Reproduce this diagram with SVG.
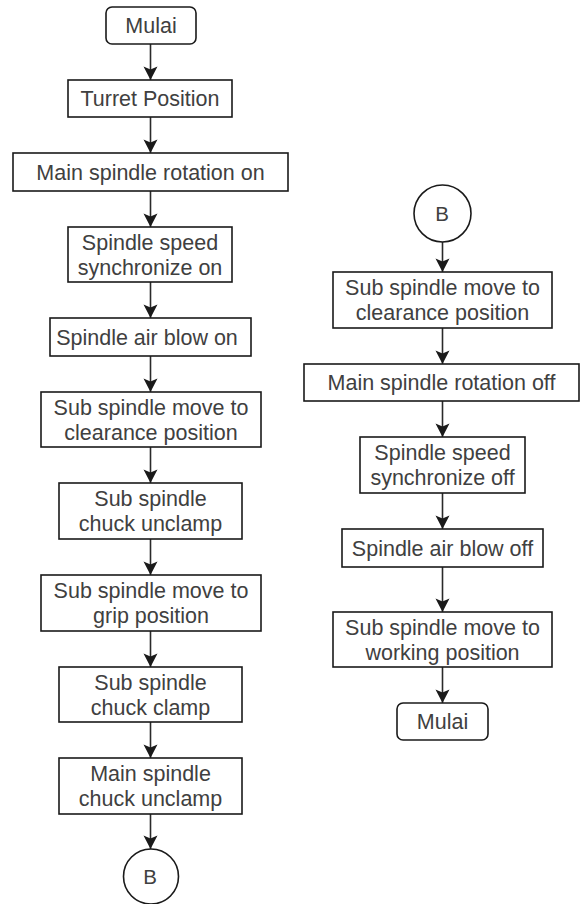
<svg xmlns="http://www.w3.org/2000/svg" width="582" height="904" viewBox="0 0 582 904">
  <defs>
    <marker id="arrow" markerUnits="userSpaceOnUse" markerWidth="16" markerHeight="16" viewBox="-15 -8 16 16" refX="0" refY="0" orient="auto">
      <path d="M0,0 L-13.5,-7 L-10.5,0 L-13.5,7 Z" fill="#1a1a1a"/>
    </marker>
    <style>
      .box { fill: #ffffff; stroke: #1a1a1a; stroke-width: 1.6; }
      .lbl { font-family: "Liberation Sans", Arial, sans-serif; font-size: 21.5px; fill: #404040; text-anchor: middle; }
      .b { font-size: 20.5px; }
      .edge { stroke: #2a2a2a; stroke-width: 1.6; fill: none; marker-end: url(#arrow); }
    </style>
  </defs>
  <rect width="582" height="904" fill="#ffffff"/>

  <!-- connectors -->
  <g id="connectors">
    <line class="edge" x1="150.5" y1="44" x2="150.5" y2="80"/>
    <line class="edge" x1="150.5" y1="117" x2="150.5" y2="153"/>
    <line class="edge" x1="150.5" y1="191" x2="150.5" y2="227"/>
    <line class="edge" x1="150.5" y1="282" x2="150.5" y2="318"/>
    <line class="edge" x1="150.5" y1="356" x2="150.5" y2="392"/>
    <line class="edge" x1="150.5" y1="447" x2="150.5" y2="483"/>
    <line class="edge" x1="150.5" y1="539" x2="150.5" y2="575"/>
    <line class="edge" x1="150.5" y1="631" x2="150.5" y2="667"/>
    <line class="edge" x1="150.5" y1="722" x2="150.5" y2="758"/>
    <line class="edge" x1="150.5" y1="814" x2="150.5" y2="849"/>

    <line class="edge" x1="442.5" y1="242" x2="442.5" y2="272"/>
    <line class="edge" x1="442.5" y1="328" x2="442.5" y2="364"/>
    <line class="edge" x1="442.5" y1="401" x2="442.5" y2="437"/>
    <line class="edge" x1="442.5" y1="493" x2="442.5" y2="529"/>
    <line class="edge" x1="442.5" y1="567" x2="442.5" y2="612"/>
    <line class="edge" x1="442.5" y1="667" x2="442.5" y2="703"/>
  </g>

  <!-- left column -->
  <g id="start">
    <rect class="box" x="106" y="7" width="90" height="37" rx="6"/>
    <text class="lbl" x="151" y="33">Mulai</text>
  </g>
  <g id="turret-position">
    <rect class="box" x="68" y="80" width="164" height="37"/>
    <text class="lbl" x="150" y="106">Turret Position</text>
  </g>
  <g id="main-rotation-on">
    <rect class="box" x="13" y="153" width="275" height="38"/>
    <text class="lbl" x="150.5" y="179.5">Main spindle rotation on</text>
  </g>
  <g id="sync-on">
    <rect class="box" x="68" y="227" width="164" height="55"/>
    <text class="lbl" x="150" y="249.5">Spindle speed</text>
    <text class="lbl" x="150" y="274.5">synchronize on</text>
  </g>
  <g id="air-blow-on">
    <rect class="box" x="50" y="318" width="201" height="38"/>
    <text class="lbl" x="147" y="344.5">Spindle air blow on</text>
  </g>
  <g id="sub-clearance-1">
    <rect class="box" x="41" y="392" width="220" height="55"/>
    <text class="lbl" x="151" y="414.5">Sub spindle move to</text>
    <text class="lbl" x="151" y="439.5">clearance position</text>
  </g>
  <g id="sub-chuck-unclamp">
    <rect class="box" x="59" y="483" width="183" height="56"/>
    <text class="lbl" x="150.5" y="506">Sub spindle</text>
    <text class="lbl" x="150.5" y="531">chuck unclamp</text>
  </g>
  <g id="sub-grip">
    <rect class="box" x="41" y="575" width="220" height="56"/>
    <text class="lbl" x="151" y="598">Sub spindle move to</text>
    <text class="lbl" x="151" y="623">grip position</text>
  </g>
  <g id="sub-chuck-clamp">
    <rect class="box" x="59" y="667" width="183" height="55"/>
    <text class="lbl" x="150.5" y="689.5">Sub spindle</text>
    <text class="lbl" x="150.5" y="714.5">chuck clamp</text>
  </g>
  <g id="main-chuck-unclamp">
    <rect class="box" x="59" y="758" width="183" height="56"/>
    <text class="lbl" x="150.5" y="781">Main spindle</text>
    <text class="lbl" x="150.5" y="806">chuck unclamp</text>
  </g>
  <g id="connector-b-out">
    <circle class="box" cx="151" cy="876.5" r="27.5"/>
    <text class="lbl b" x="150" y="884">B</text>
  </g>

  <!-- right column -->
  <g id="connector-b-in">
    <circle class="box" cx="442.5" cy="213.5" r="28.5"/>
    <text class="lbl b" x="442" y="221">B</text>
  </g>
  <g id="sub-clearance-2">
    <rect class="box" x="333" y="272" width="219" height="56"/>
    <text class="lbl" x="442.5" y="295">Sub spindle move to</text>
    <text class="lbl" x="442.5" y="320">clearance position</text>
  </g>
  <g id="main-rotation-off">
    <rect class="box" x="304" y="364" width="275" height="37"/>
    <text class="lbl" x="441.5" y="390">Main spindle rotation off</text>
  </g>
  <g id="sync-off">
    <rect class="box" x="360" y="437" width="165" height="56"/>
    <text class="lbl" x="442.5" y="460">Spindle speed</text>
    <text class="lbl" x="442.5" y="485">synchronize off</text>
  </g>
  <g id="air-blow-off">
    <rect class="box" x="342" y="529" width="201" height="38"/>
    <text class="lbl" x="442.5" y="555.5">Spindle air blow off</text>
  </g>
  <g id="sub-working">
    <rect class="box" x="333" y="612" width="219" height="55"/>
    <text class="lbl" x="442.5" y="634.5">Sub spindle move to</text>
    <text class="lbl" x="442.5" y="659.5">working position</text>
  </g>
  <g id="end">
    <rect class="box" x="397" y="703" width="91" height="37" rx="6"/>
    <text class="lbl" x="442.5" y="729">Mulai</text>
  </g>
</svg>
